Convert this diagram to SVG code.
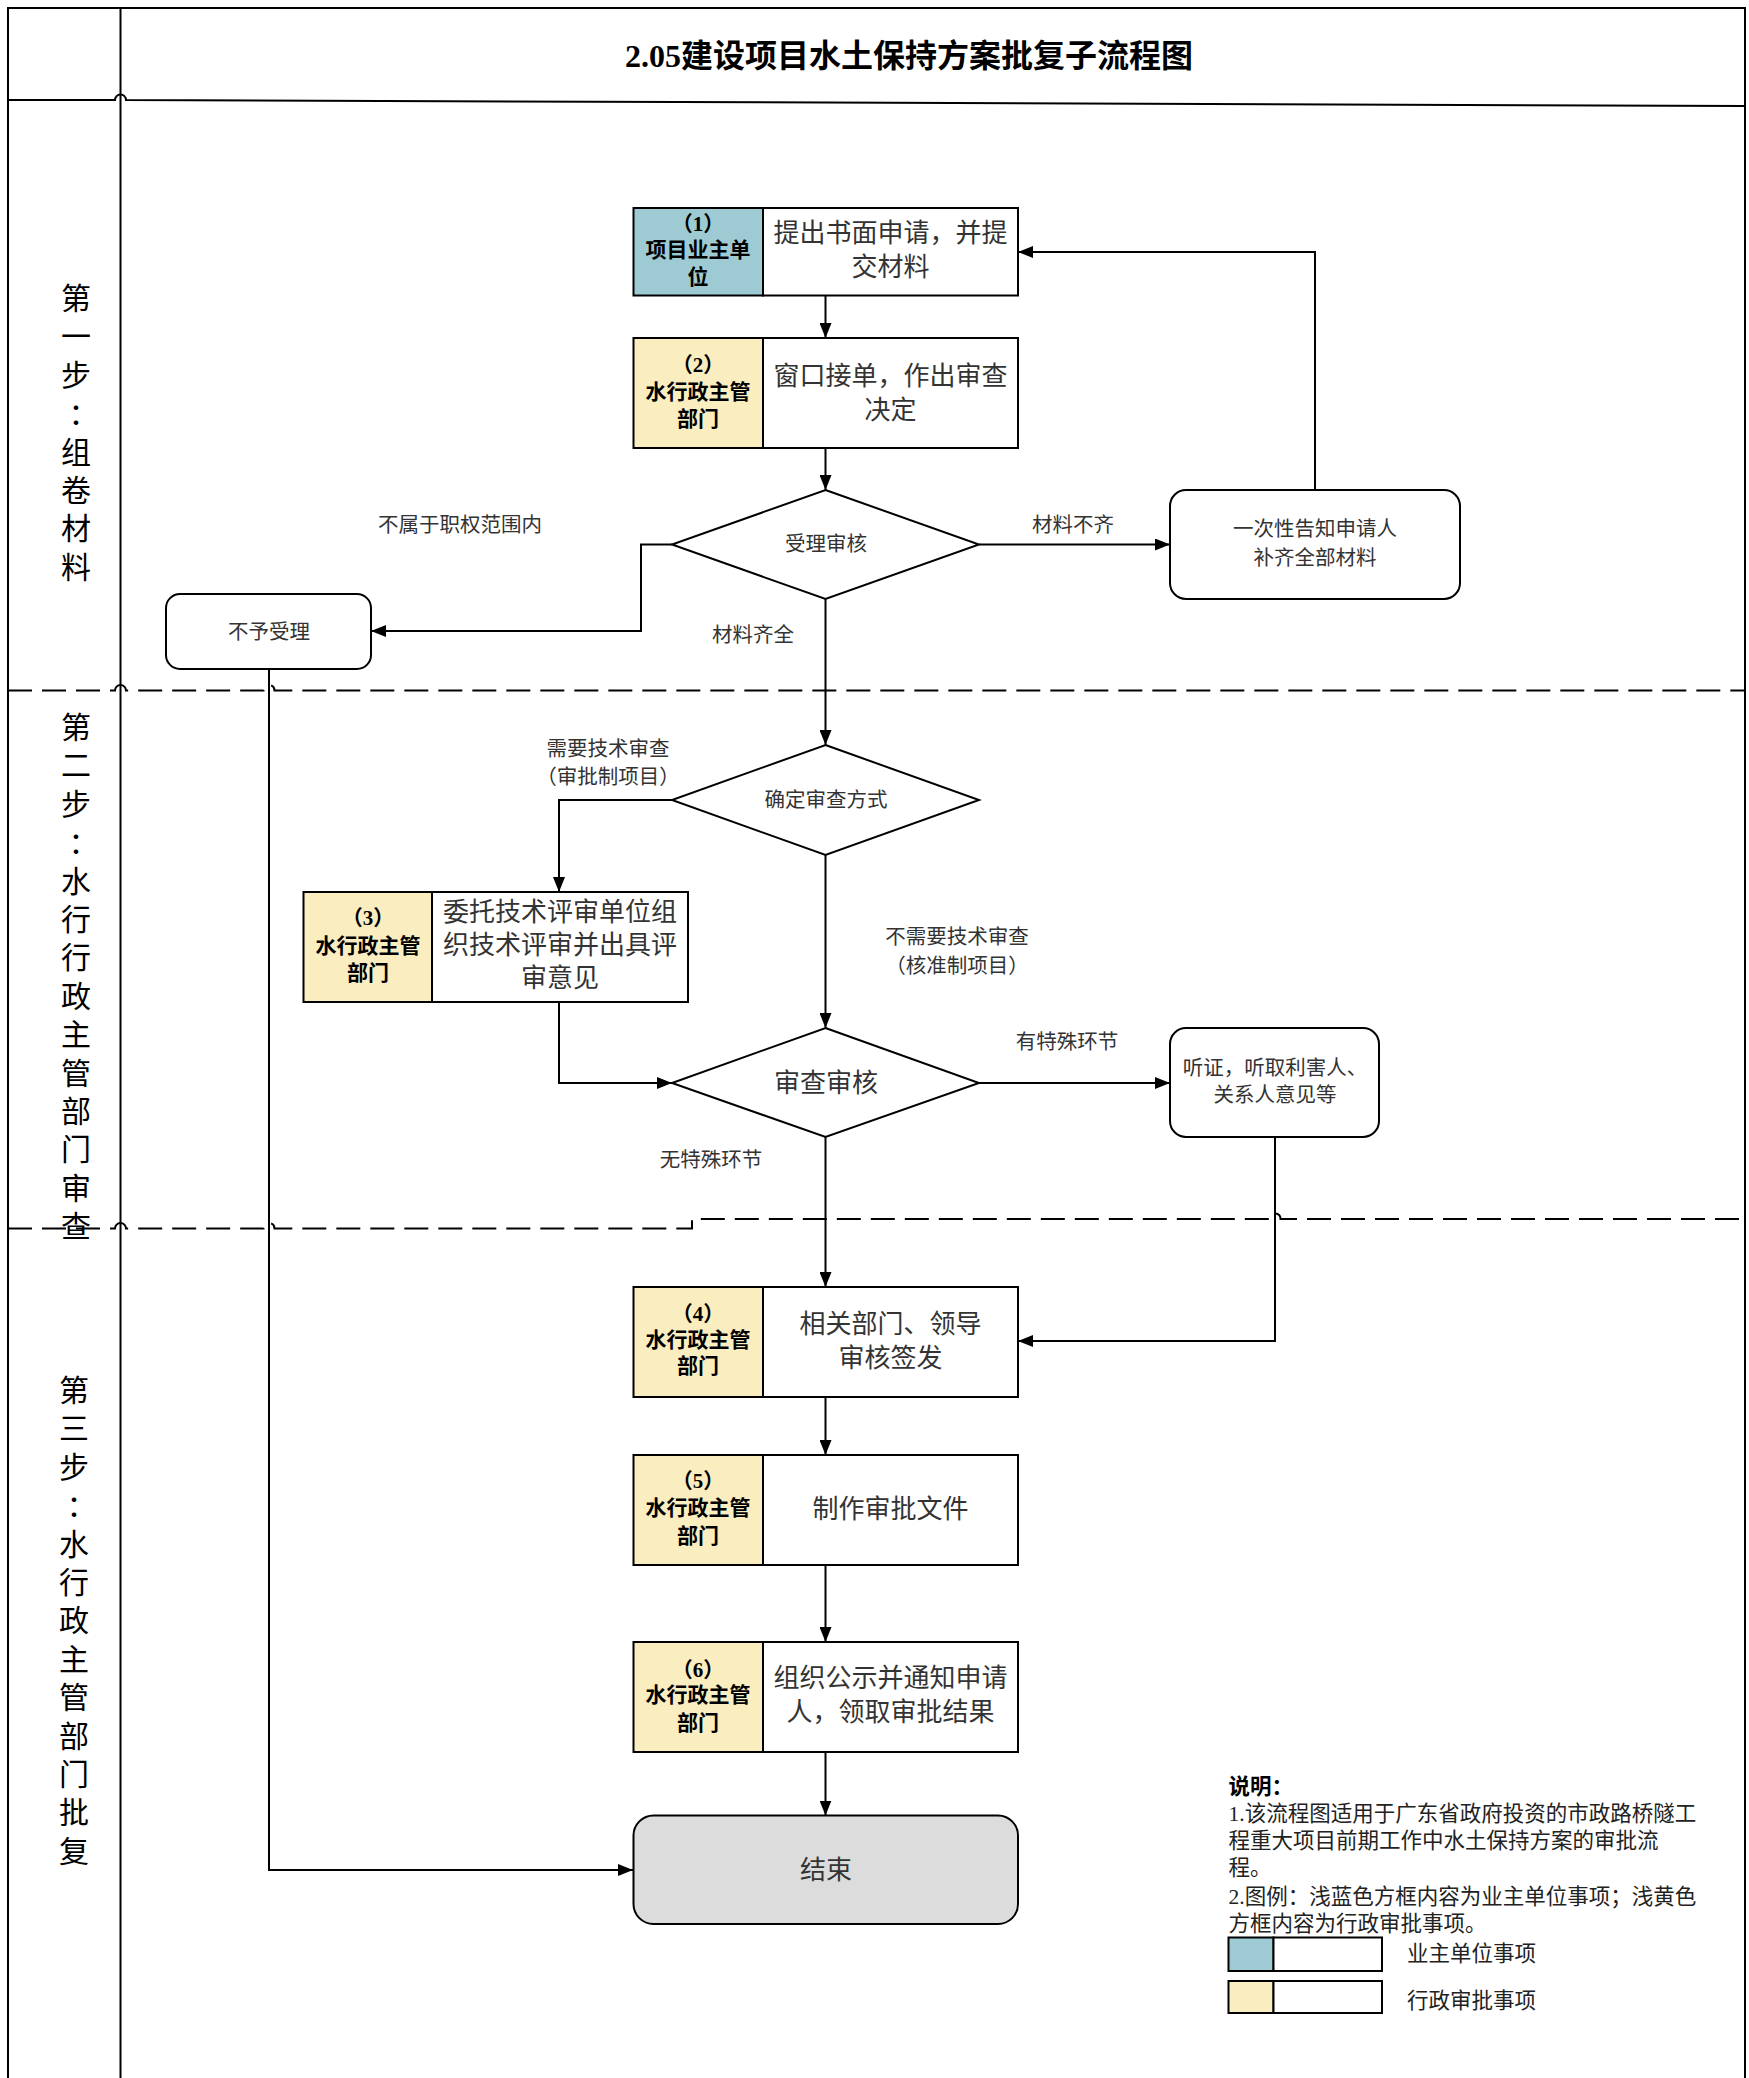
<svg xmlns="http://www.w3.org/2000/svg" width="1749" height="2078" viewBox="0 0 1749 2078">
<defs>
<marker id="arr" viewBox="0 0 15 12" refX="15" refY="6" markerWidth="15" markerHeight="12" orient="auto" markerUnits="userSpaceOnUse">
<path d="M0,0 L15,6 L0,12 z" fill="#000"/>
</marker>
<style>
.frame{fill:none;stroke:#000;stroke-width:2}
.dash{fill:none;stroke:#000;stroke-width:2;stroke-dasharray:24 10}
.box{fill:#fff;stroke:#000;stroke-width:2}
.blue{fill:#9ECBD3;stroke:#000;stroke-width:2}
.yel{fill:#FAEDC0;stroke:#000;stroke-width:2}
.end{fill:#DCDCDC;stroke:#000;stroke-width:2}
.conn{fill:none;stroke:#000;stroke-width:2}
.arrow{marker-end:url(#arr)}
text{font-family:"Liberation Serif","Noto Sans CJK SC",serif;text-anchor:middle;dominant-baseline:central}
.title{font-size:32px;font-weight:bold;fill:#000}
.lane{font-size:30px;fill:#000}
.who{font-size:21px;font-weight:bold;fill:#000}
.act{font-size:26px;fill:#333}
.lbl{font-size:20.5px;fill:#333}
.big{font-size:26px;fill:#333}
.note{font-size:21.5px;fill:#222;text-anchor:start}
.noteb{font-size:21.5px;font-weight:bold;fill:#000;text-anchor:start}
.colon{font-family:"Noto Sans CJK TC",sans-serif}
</style>
</defs>
<rect width="1749" height="2078" fill="#fff"/>

<g id="frame">
<path class="frame" d="M8,2078 L8,8 L1745,8 L1745,2078"/>
<path class="frame" d="M120.5,8 L120.5,2078"/>
<path class="frame" d="M8,100 L115,100 A5.5,5.5 0 0 1 126,100 L1745,106"/>
<text class="title" x="909" y="56">2.05建设项目水土保持方案批复子流程图</text>
</g>

<g id="lanes">
<path class="dash" d="M8,690.5 L115,690.5 A5.5,5.5 0 0 1 126,690.5 L263.5,690.5 A5.5,5.5 0 0 1 274.5,690.5 L1745,690.5"/>
<path class="dash" d="M8,1228.5 L115,1228.5 A5.5,5.5 0 0 1 126,1228.5 L263.5,1228.5 A5.5,5.5 0 0 1 274.5,1228.5 L692,1228.5 L692,1219 L1269.5,1219 A5.5,5.5 0 0 1 1280.5,1219 L1745,1219"/>
<text class="lane"><tspan x="76" y="298">第</tspan><tspan x="76" y="336.4">一</tspan><tspan x="76" y="374.8">步</tspan><tspan class="colon" x="76" y="413.2">：</tspan><tspan x="76" y="451.6">组</tspan><tspan x="76" y="490">卷</tspan><tspan x="76" y="528.4">材</tspan><tspan x="76" y="566.8">料</tspan></text>
<text class="lane"><tspan x="76" y="727">第</tspan><tspan x="76" y="765.4">二</tspan><tspan x="76" y="803.8">步</tspan><tspan class="colon" x="76" y="842.2">：</tspan><tspan x="76" y="880.6">水</tspan><tspan x="76" y="919">行</tspan><tspan x="76" y="957.4">行</tspan><tspan x="76" y="995.8">政</tspan><tspan x="76" y="1034.2">主</tspan><tspan x="76" y="1072.6">管</tspan><tspan x="76" y="1111">部</tspan><tspan x="76" y="1149.4">门</tspan><tspan x="76" y="1187.8">审</tspan><tspan x="76" y="1226.2">查</tspan></text>
<text class="lane"><tspan x="74" y="1390">第</tspan><tspan x="74" y="1428.4">三</tspan><tspan x="74" y="1466.8">步</tspan><tspan class="colon" x="74" y="1505.2">：</tspan><tspan x="74" y="1543.6">水</tspan><tspan x="74" y="1582">行</tspan><tspan x="74" y="1620.4">政</tspan><tspan x="74" y="1658.8">主</tspan><tspan x="74" y="1697.2">管</tspan><tspan x="74" y="1735.6">部</tspan><tspan x="74" y="1774">门</tspan><tspan x="74" y="1812.4">批</tspan><tspan x="74" y="1850.8">复</tspan></text>
</g>

<g id="connectors">
<path class="conn arrow" d="M825.5,295.5 L825.5,338"/>
<path class="conn arrow" d="M825.5,448 L825.5,490"/>
<path class="conn arrow" d="M825.5,599 L825.5,745"/>
<path class="conn arrow" d="M825.5,855 L825.5,1028"/>
<path class="conn arrow" d="M825.5,1137 L825.5,1287"/>
<path class="conn arrow" d="M825.5,1397 L825.5,1455"/>
<path class="conn arrow" d="M825.5,1565 L825.5,1642"/>
<path class="conn arrow" d="M825.5,1752 L825.5,1815.5"/>
<path class="conn arrow" d="M979,544.5 L1170,544.5"/>
<path class="conn arrow" d="M1315,490 L1315,252 L1018,252"/>
<path class="conn arrow" d="M672,544.5 L641,544.5 L641,631 L371,631"/>
<path class="conn arrow" d="M269,669 L269,1870 L633,1870"/>
<path class="conn arrow" d="M672,800 L559,800 L559,892"/>
<path class="conn arrow" d="M559,1002 L559,1083 L672,1083"/>
<path class="conn arrow" d="M979,1083 L1170,1083"/>
<path class="conn arrow" d="M1275,1137 L1275,1341 L1018,1341"/>
<text class="lbl" x="460" y="525">不属于职权范围内</text>
<text class="lbl" x="1073" y="525">材料不齐</text>
<text class="lbl" x="753" y="635">材料齐全</text>
<text class="lbl" x="608" y="749">需要技术审查</text>
<text class="lbl" x="608" y="777">（审批制项目）</text>
<text class="lbl" x="957" y="937">不需要技术审查</text>
<text class="lbl" x="957" y="966">（核准制项目）</text>
<text class="lbl" x="1067" y="1042">有特殊环节</text>
<text class="lbl" x="711" y="1160">无特殊环节</text>
</g>

<g id="n1">
<rect class="blue" x="633.5" y="208" width="129.5" height="87.5"/>
<rect class="box" x="763" y="208" width="255" height="87.5"/>
<text class="who" x="698" y="224">（1）</text>
<text class="who" x="698" y="250">项目业主单</text>
<text class="who" x="698" y="277">位</text>
<text class="act" x="890.5" y="233">提出书面申请，并提</text>
<text class="act" x="890.5" y="267">交材料</text>
</g>

<g id="n2">
<rect class="yel" x="633.5" y="338" width="129.5" height="110"/>
<rect class="box" x="763" y="338" width="255" height="110"/>
<text class="who" x="698" y="365">（2）</text>
<text class="who" x="698" y="392">水行政主管</text>
<text class="who" x="698" y="419">部门</text>
<text class="act" x="890.5" y="376">窗口接单，作出审查</text>
<text class="act" x="890.5" y="410">决定</text>
</g>

<g id="d1">
<polygon class="box" points="825.5,490 979,544.5 825.5,599 672,544.5"/>
<text class="lbl" x="826" y="544">受理审核</text>
</g>

<g id="n_notify">
<rect class="box" x="1170" y="490" width="290" height="109" rx="16"/>
<text class="lbl" x="1315" y="529">一次性告知申请人</text>
<text class="lbl" x="1315" y="558">补齐全部材料</text>
</g>

<g id="n_reject">
<rect class="box" x="166" y="594" width="205" height="75" rx="14"/>
<text class="lbl" x="269" y="632">不予受理</text>
</g>

<g id="d2">
<polygon class="box" points="825.5,745 979,800 825.5,855 672,800"/>
<text class="lbl" x="826" y="800">确定审查方式</text>
</g>

<g id="n3">
<rect class="yel" x="303.5" y="892" width="128.5" height="110"/>
<rect class="box" x="432" y="892" width="256" height="110"/>
<text class="who" x="368" y="918">（3）</text>
<text class="who" x="368" y="946">水行政主管</text>
<text class="who" x="368" y="973">部门</text>
<text class="act" x="560" y="912">委托技术评审单位组</text>
<text class="act" x="560" y="945">织技术评审并出具评</text>
<text class="act" x="560" y="978">审意见</text>
</g>

<g id="d3">
<polygon class="box" points="825.5,1028 979,1083 825.5,1137 672,1083"/>
<text class="big" x="826" y="1083">审查审核</text>
</g>

<g id="n_hearing">
<rect class="box" x="1170" y="1028" width="209" height="109" rx="16"/>
<text class="lbl" x="1275" y="1068">听证，听取利害人、</text>
<text class="lbl" x="1275" y="1095">关系人意见等</text>
</g>

<g id="n4">
<rect class="yel" x="633.5" y="1287" width="129.5" height="110"/>
<rect class="box" x="763" y="1287" width="255" height="110"/>
<text class="who" x="698" y="1314">（4）</text>
<text class="who" x="698" y="1340">水行政主管</text>
<text class="who" x="698" y="1366">部门</text>
<text class="act" x="890.5" y="1324">相关部门、领导</text>
<text class="act" x="890.5" y="1358">审核签发</text>
</g>

<g id="n5">
<rect class="yel" x="633.5" y="1455" width="129.5" height="110"/>
<rect class="box" x="763" y="1455" width="255" height="110"/>
<text class="who" x="698" y="1481">（5）</text>
<text class="who" x="698" y="1508">水行政主管</text>
<text class="who" x="698" y="1536">部门</text>
<text class="act" x="890.5" y="1509">制作审批文件</text>
</g>

<g id="n6">
<rect class="yel" x="633.5" y="1642" width="129.5" height="110"/>
<rect class="box" x="763" y="1642" width="255" height="110"/>
<text class="who" x="698" y="1670">（6）</text>
<text class="who" x="698" y="1695">水行政主管</text>
<text class="who" x="698" y="1723">部门</text>
<text class="act" x="890.5" y="1678">组织公示并通知申请</text>
<text class="act" x="890.5" y="1712">人，领取审批结果</text>
</g>

<g id="n_end">
<rect class="end" x="633.5" y="1815.5" width="384.5" height="108.5" rx="20"/>
<text class="big" x="826" y="1870">结束</text>
</g>

<g id="legend">
<text class="noteb" x="1228.5" y="1787">说明：</text>
<text class="note" x="1228.5" y="1814">1.该流程图适用于广东省政府投资的市政路桥隧工</text>
<text class="note" x="1228.5" y="1841">程重大项目前期工作中水土保持方案的审批流</text>
<text class="note" x="1228.5" y="1868">程。</text>
<text class="note" x="1228.5" y="1897">2.图例：浅蓝色方框内容为业主单位事项；浅黄色</text>
<text class="note" x="1228.5" y="1924">方框内容为行政审批事项。</text>
<rect class="blue" x="1228.5" y="1937.5" width="45" height="33.5"/>
<rect class="box" x="1273.5" y="1937.5" width="108.5" height="33.5"/>
<text class="note" x="1407" y="1954">业主单位事项</text>
<rect class="yel" x="1228.5" y="1981" width="45" height="32"/>
<rect class="box" x="1273.5" y="1981" width="108.5" height="32"/>
<text class="note" x="1407" y="2001">行政审批事项</text>
</g>
</svg>
